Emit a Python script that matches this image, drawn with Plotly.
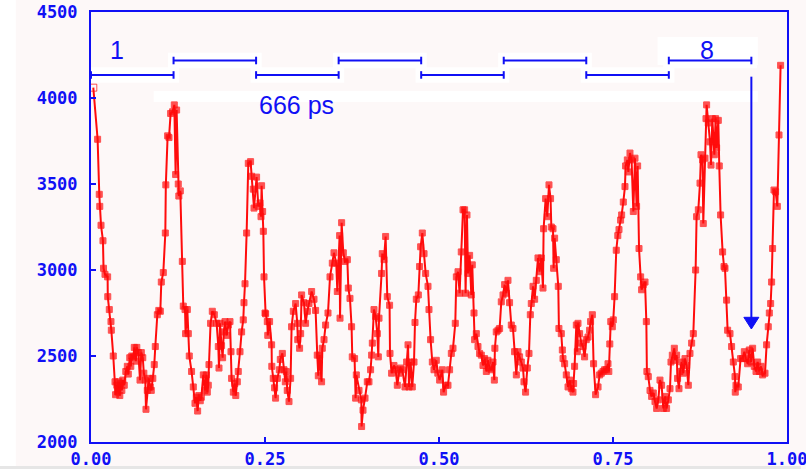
import plotly.graph_objects as go

# Time (fraction of full scale) and counts of the measured trace
time_frac = [
    0.0033, 0.0095, 0.0119, 0.0126, 0.0144, 0.0172, 0.0180, 0.0201, 0.0239, 0.0241,
    0.0263, 0.0287, 0.0292, 0.0320, 0.0345, 0.0353, 0.0371, 0.0385, 0.0399, 0.0414,
    0.0428, 0.0443, 0.0457, 0.0478, 0.0500, 0.0522, 0.0536, 0.0557, 0.0572, 0.0586,
    0.0608, 0.0622, 0.0644, 0.0658, 0.0680, 0.0704, 0.0723, 0.0744, 0.0759, 0.0780,
    0.0790, 0.0809, 0.0830, 0.0852, 0.0866, 0.0888, 0.0909, 0.0924, 0.0953, 0.0974,
    0.0996, 0.1010, 0.1039, 0.1068, 0.1075, 0.1101, 0.1121, 0.1144, 0.1172, 0.1197,
    0.1216, 0.1230, 0.1254, 0.1262, 0.1283, 0.1312, 0.1326, 0.1351, 0.1359, 0.1384,
    0.1398, 0.1412, 0.1445, 0.1470, 0.1494, 0.1513, 0.1532, 0.1549, 0.1570, 0.1585,
    0.1614, 0.1638, 0.1657, 0.1671, 0.1685, 0.1695, 0.1718, 0.1743, 0.1772, 0.1805,
    0.1829, 0.1839, 0.1853, 0.1876, 0.1891, 0.1908, 0.1925, 0.1951, 0.1973, 0.1997,
    0.2011, 0.2020, 0.2045, 0.2066, 0.2080, 0.2102, 0.2116, 0.2141, 0.2164, 0.2188,
    0.2198, 0.2213, 0.2236, 0.2260, 0.2293, 0.2308, 0.2332, 0.2342, 0.2379, 0.2404,
    0.2428, 0.2443, 0.2451, 0.2466, 0.2476, 0.2486, 0.2500, 0.2509, 0.2533, 0.2540,
    0.2566, 0.2595, 0.2598, 0.2619, 0.2638, 0.2652, 0.2677, 0.2706, 0.2720, 0.2749,
    0.2773, 0.2792, 0.2806, 0.2820, 0.2845, 0.2868, 0.2882, 0.2907, 0.2940, 0.2964,
    0.2971, 0.2997, 0.3012, 0.3026, 0.3060, 0.3083, 0.3108, 0.3132, 0.3170, 0.3204,
    0.3227, 0.3251, 0.3266, 0.3285, 0.3313, 0.3323, 0.3348, 0.3371, 0.3405, 0.3434,
    0.3467, 0.3491, 0.3524, 0.3539, 0.3572, 0.3578, 0.3601, 0.3625, 0.3649, 0.3683,
    0.3697, 0.3721, 0.3744, 0.3754, 0.3787, 0.3802, 0.3812, 0.3851, 0.3884, 0.3888,
    0.3908, 0.3937, 0.3970, 0.3994, 0.4017, 0.4032, 0.4042, 0.4066, 0.4089, 0.4114,
    0.4128, 0.4138, 0.4175, 0.4185, 0.4210, 0.4233, 0.4257, 0.4290, 0.4296, 0.4319,
    0.4353, 0.4376, 0.4401, 0.4425, 0.4448, 0.4473, 0.4511, 0.4535, 0.4555, 0.4569,
    0.4592, 0.4616, 0.4641, 0.4655, 0.4674, 0.4703, 0.4721, 0.4736, 0.4760, 0.4785,
    0.4808, 0.4842, 0.4856, 0.4879, 0.4904, 0.4928, 0.4961, 0.4983, 0.5009, 0.5048,
    0.5066, 0.5095, 0.5129, 0.5152, 0.5177, 0.5201, 0.5234, 0.5249, 0.5273, 0.5296,
    0.5320, 0.5345, 0.5368, 0.5382, 0.5402, 0.5417, 0.5440, 0.5464, 0.5478, 0.5503,
    0.5512, 0.5536, 0.5560, 0.5583, 0.5608, 0.5632, 0.5655, 0.5680, 0.5704, 0.5727,
    0.5752, 0.5776, 0.5795, 0.5803, 0.5823, 0.5848, 0.5871, 0.5895, 0.5920, 0.5943,
    0.5967, 0.5991, 0.6014, 0.6039, 0.6063, 0.6086, 0.6111, 0.6135, 0.6158, 0.6183,
    0.6207, 0.6221, 0.6244, 0.6269, 0.6293, 0.6312, 0.6326, 0.6351, 0.6374, 0.6398,
    0.6422, 0.6445, 0.6470, 0.6494, 0.6503, 0.6532, 0.6556, 0.6580, 0.6603, 0.6614,
    0.6638, 0.6647, 0.6661, 0.6685, 0.6714, 0.6723, 0.6757, 0.6772, 0.6782, 0.6805,
    0.6829, 0.6854, 0.6877, 0.6901, 0.6925, 0.6934, 0.6948, 0.6973, 0.6987, 0.6997,
    0.7020, 0.7045, 0.7069, 0.7092, 0.7116, 0.7141, 0.7164, 0.7178, 0.7203, 0.7221,
    0.7250, 0.7285, 0.7308, 0.7332, 0.7356, 0.7379, 0.7404, 0.7428, 0.7440, 0.7454,
    0.7468, 0.7490, 0.7504, 0.7523, 0.7547, 0.7569, 0.7586, 0.7609, 0.7624, 0.7648,
    0.7672, 0.7681, 0.7706, 0.7720, 0.7744, 0.7767, 0.7792, 0.7816, 0.7839, 0.7854,
    0.7874, 0.7897, 0.7911, 0.7935, 0.7960, 0.7979, 0.7987, 0.8007, 0.8032, 0.8055,
    0.8079, 0.8103, 0.8127, 0.8151, 0.8175, 0.8198, 0.8223, 0.8247, 0.8270, 0.8295,
    0.8319, 0.8333, 0.8352, 0.8381, 0.8391, 0.8414, 0.8428, 0.8448, 0.8463, 0.8486,
    0.8510, 0.8534, 0.8558, 0.8582, 0.8606, 0.8630, 0.8654, 0.8687, 0.8701, 0.8726,
    0.8750, 0.8764, 0.8787, 0.8797, 0.8822, 0.8836, 0.8845, 0.8869, 0.8894, 0.8908,
    0.8927, 0.8956, 0.8974, 0.8989, 0.9013, 0.9027, 0.9046, 0.9075, 0.9095, 0.9109,
    0.9132, 0.9147, 0.9181, 0.9204, 0.9229, 0.9253, 0.9257, 0.9267, 0.9300, 0.9333,
    0.9362, 0.9387, 0.9411, 0.9434, 0.9458, 0.9483, 0.9506, 0.9530, 0.9555, 0.9578,
    0.9602, 0.9627, 0.9650, 0.9684, 0.9707, 0.9731, 0.9746, 0.9765, 0.9779, 0.9793,
    0.9813, 0.9836, 0.9861, 0.9885, 0.9908,
]

counts = [
    4060, 3760, 3440, 3370, 3260, 3170, 3010, 2975, 2960, 2845,
    2770, 2700, 2650, 2500, 2350, 2275, 2330, 2290, 2350, 2270,
    2340, 2300, 2360, 2330, 2410, 2440, 2395, 2490, 2440, 2500,
    2495, 2550, 2470, 2550, 2520, 2360, 2520, 2490, 2400, 2360,
    2190, 2300, 2370, 2320, 2300, 2370, 2450, 2555, 2740, 2765,
    2760, 2930, 2985, 3215, 3495, 3780, 3770, 3910, 3920, 3960,
    3555, 3930, 3500, 3430, 3460, 3050, 2790, 2770, 2630, 2770,
    2630, 2500, 2410, 2320, 2225, 2260, 2180, 2270, 2240, 2260,
    2390, 2300, 2390, 2290, 2330, 2450, 2690, 2760, 2740, 2690,
    2555, 2430, 2690, 2560, 2490, 2640, 2700, 2620, 2680, 2700,
    2525, 2370, 2290, 2340, 2270, 2350, 2410, 2525, 2640, 2710,
    2810, 2920, 3215, 3620, 3630, 3545, 3470, 3360, 3540, 3370,
    3390, 3310, 3490, 3340, 3225, 2960, 2750, 2745, 2700, 2620,
    2700, 2565, 2440, 2370, 2315, 2255, 2370, 2420, 2480, 2515,
    2420, 2350, 2410, 2300, 2235, 2370, 2670, 2760, 2805, 2690,
    2595, 2545, 2630, 2855, 2810, 2690, 2760, 2805, 2875, 2830,
    2765, 2505, 2385, 2505, 2350, 2545, 2595, 2680, 2750, 2960,
    3040, 3100, 3040, 2875, 3200, 2720, 3275, 3100, 3050, 3060,
    2895, 2835, 2670, 2495, 2485, 2255, 2390, 2300, 2245, 2090,
    2185, 2255, 2350, 2350, 2420, 2505, 2575, 2770, 2730, 2630,
    2495, 2720, 2980, 3095, 3060, 3195, 2845, 2795, 2515, 2400,
    2445, 2420, 2330, 2400, 2430, 2420, 2320, 2465, 2565, 2320,
    2465, 2320, 2465, 2695, 2830, 2855, 3020, 3135, 3215, 3095,
    2980, 2905, 2770, 2595, 2465, 2420, 2475, 2400, 2360, 2420,
    2290, 2330, 2330, 2420, 2515, 2545, 2690, 2960, 2990, 2865,
    3105, 3350, 3350, 2865, 3320, 2980, 3085, 2855, 3030, 2750,
    2595, 2630, 2555, 2515, 2505, 2445, 2485, 2410, 2475, 2430,
    2420, 2465, 2360, 2545, 2640, 2650, 2660, 2815, 2855, 2915,
    2865, 2940, 2810, 2680, 2660, 2525, 2390, 2525, 2495, 2465,
    2430, 2350, 2290, 2430, 2515, 2740, 2805, 2905, 2830, 2940,
    3070, 2990, 3070, 2895, 3240, 3415, 3310, 3495, 3415, 3250,
    3240, 3010, 3185, 3060, 2905, 2660, 2630, 2535, 2485, 2455,
    2390, 2320, 2360, 2310, 2290, 2340, 2440, 2680, 2525, 2690,
    2630, 2575, 2555, 2495, 2595, 2610, 2650, 2700, 2740, 2455,
    2275, 2320, 2390, 2400, 2410, 2420, 2420, 2455, 2410, 2570,
    2700, 2670, 2710, 2845, 3115, 3200, 3235, 3290, 3320, 3395,
    3485, 3605, 3640, 3570, 3680, 3640, 3340, 3650, 3370, 3605,
    3125, 2960, 2885, 2915, 2930, 2700, 2410, 2380, 2300, 2265,
    2285, 2235, 2195, 2245, 2360, 2330, 2195, 2265, 2195, 2245,
    2310, 2465, 2505, 2545, 2475, 2505, 2370, 2310, 2410, 2465,
    2400, 2485, 2445, 2330, 2515, 2575, 2630, 3000, 3310, 3350,
    3505, 3670, 3640, 3270, 3650, 3880, 3960, 3855, 3745, 3610,
    3880, 3670, 3880, 3710, 3870, 3605, 3320, 3105, 3020, 3010,
    2825, 2650, 2630, 2555, 2465, 2380, 2290, 2330, 2320, 2485,
    2485, 2525, 2485, 2455, 2535, 2465, 2545, 2440, 2410, 2465,
    2410, 2440, 2390, 2400, 2565, 2670, 2750, 2805, 2930, 3125,
    3465, 3455, 3370, 3785, 4190,
]

x_tick_vals = [0.0, 0.25, 0.5, 0.75, 1.0]
x_tick_text = ["0.00", "0.25", "0.50", "0.75", "1.00"]
y_tick_vals = [2000, 2500, 3000, 3500, 4000, 4500]
y_tick_text = ["2000", "2500", "3000", "3500", "4000", "4500"]

# Period markers: eight consecutive 666 ps intervals
period_ps = 666
n_periods = 8
period_frac = 0.1186          # one period as a fraction of full scale
level_low, level_high = 4134, 4218
cap_half = 22
marker_level = 2657           # count level the arrow points to

BLUE = "#1010f5"
RED = "#ff0c0c"
BG = "#fdf8f8"

fig = go.Figure()

symbols = ["square-open"] + ["square"] * (len(counts) - 1)
sizes = [7] + [6] * (len(counts) - 1)
fig.add_trace(go.Scatter(
    x=time_frac, y=counts, mode="lines+markers",
    line=dict(color=RED, width=2),
    marker=dict(symbol=symbols, size=sizes, color=RED,
                line=dict(color=RED, width=1)),
    showlegend=False, hoverinfo="x+y",
))

shapes = []
# light boxes behind the period bars
for k in range(n_periods):
    lvl = level_low if k % 2 == 0 else level_high
    shapes.append(dict(type="rect", xref="x", yref="y", layer="below",
                       x0=k * period_frac - 0.008, x1=(k + 1) * period_frac + 0.008,
                       y0=lvl - 45, y1=lvl + 45, fillcolor="white", line_width=0))
shapes.append(dict(type="rect", xref="x", yref="y", layer="below",
                   x0=0.09, x1=0.958, y0=3977, y1=4041,
                   fillcolor="white", line_width=0))
shapes.append(dict(type="rect", xref="x", yref="y", layer="below",
                   x0=0.814, x1=0.958, y0=4192, y1=4355,
                   fillcolor="white", line_width=0))

# period bars with end caps
for k in range(n_periods):
    lvl = level_low if k % 2 == 0 else level_high
    x0, x1 = k * period_frac, (k + 1) * period_frac
    shapes.append(dict(type="line", xref="x", yref="y", x0=x0, x1=x1, y0=lvl, y1=lvl,
                       line=dict(color=BLUE, width=2)))
    for xe in (x0, x1):
        shapes.append(dict(type="line", xref="x", yref="y", x0=xe, x1=xe,
                           y0=lvl - cap_half, y1=lvl + cap_half,
                           line=dict(color=BLUE, width=2)))

# arrow from the end of the last period down to the marked level
x_end = n_periods * period_frac
shapes.append(dict(type="line", xref="x", yref="y", x0=x_end, x1=x_end,
                   y0=level_low - 10, y1=marker_level + 50,
                   line=dict(color=BLUE, width=2)))
shapes.append(dict(type="path", xref="x", yref="y",
                   path=f"M {x_end - 0.0108},{marker_level + 68} L {x_end + 0.0108},{marker_level + 68} L {x_end},{marker_level} Z",
                   fillcolor=BLUE, line=dict(color=BLUE, width=1)))

# page edges
shapes.append(dict(type="rect", xref="paper", yref="paper", layer="below",
                   x0=-0.14, x1=-0.108, y0=-0.07, y1=1.03,
                   fillcolor="white", line_width=0))
shapes.append(dict(type="rect", xref="paper", yref="paper", layer="below",
                   x0=-0.14, x1=1.02, y0=-0.07, y1=-0.056,
                   fillcolor="#e6e6e6", line_width=0))

label_font = dict(family="Liberation Sans, Arial, sans-serif", size=25, color=BLUE)
annotations = [
    dict(x=0.0378, y=4279, text="1", showarrow=False, font=label_font,
         xanchor="center", yanchor="middle"),
    dict(x=(n_periods - 0.5) * period_frac - 0.005, y=4279, text=str(n_periods),
         showarrow=False, font=label_font, xanchor="center", yanchor="middle"),
    dict(x=0.2957, y=3959, text=f"{period_ps} ps", showarrow=False, font=label_font,
         xanchor="center", yanchor="middle"),
]

tick_font = dict(family="DejaVu Sans Mono, monospace", size=17, color=BLUE,
                 weight="bold")

fig.update_layout(
    width=806, height=469,
    margin=dict(l=91, r=19, t=12, b=27, autoexpand=False),
    paper_bgcolor=BG, plot_bgcolor=BG,
    shapes=shapes, annotations=annotations,
    xaxis=dict(range=[0, 1], tickvals=x_tick_vals, ticktext=x_tick_text,
               ticks="inside", ticklen=5, tickwidth=2, tickcolor=BLUE,
               showline=True, linecolor=BLUE, linewidth=2, mirror=True,
               showgrid=False, zeroline=False, tickfont=tick_font,
               ticklabelstandoff=1, ticklabeloverflow="allow"),
    yaxis=dict(range=[2000, 4500], tickvals=y_tick_vals, ticktext=y_tick_text,
               ticks="inside", ticklen=5, tickwidth=2, tickcolor=BLUE,
               showline=True, linecolor=BLUE, linewidth=2, mirror=True,
               showgrid=False, zeroline=False, tickfont=tick_font,
               ticklabelstandoff=8),
)

fig.write_html("out.html")
